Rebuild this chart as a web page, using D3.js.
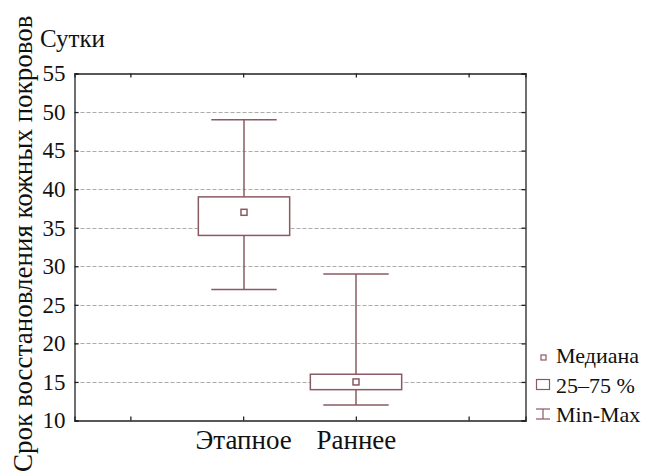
<!DOCTYPE html>
<html>
<head>
<meta charset="utf-8">
<script src="https://cdn.jsdelivr.net/npm/d3@7"></script>
<style>
  body { margin: 0; background: #fff; }
  svg text { font-family: 'Liberation Serif', serif; fill: #111; }
</style>
</head>
<body>
<svg id="chart" width="652" height="475"></svg>
<script>
  const groups = ['Этапное', 'Раннее'];
  const slots = ['', 'Этапное', 'Раннее', ' '];
  const medians = [37, 15];
  const q1 = [34, 14];
  const q3 = [39, 16];
  const mins = [27, 12];
  const maxs = [49, 29];
  const yTicks = [10, 15, 20, 25, 30, 35, 40, 45, 50, 55];
  const legendLabels = ['Медиана', '25–75 %', 'Min-Max'];

  const boxColor = '#8a5a63';
  const svg = d3.select('#chart');
  const margin = { top: 73.5, right: 126.5, bottom: 54.5, left: 74.5 };
  const width = +svg.attr('width');
  const height = +svg.attr('height');

  const x = d3.scaleBand().domain(slots).range([margin.left, width - margin.right]);
  const y = d3.scaleLinear().domain([10, 55]).range([height - margin.bottom, margin.top]);

  // grid
  svg.append('g')
    .selectAll('line')
    .data(yTicks.filter(t => t > 10 && t < 55))
    .enter()
    .append('line')
    .attr('x1', margin.left)
    .attr('x2', width - margin.right)
    .attr('y1', d => Math.round(y(d)) + 0.5)
    .attr('y2', d => Math.round(y(d)) + 0.5)
    .attr('stroke', '#ababab')
    .attr('stroke-dasharray', '4,2');

  // axes
  const yAxis = svg.append('g')
    .attr('transform', `translate(${margin.left},0)`)
    .call(d3.axisLeft(y).tickValues(yTicks).tickSize(-4).tickPadding(9));
  svg.append('g')
    .attr('transform', `translate(${width - margin.right},0)`)
    .call(d3.axisRight(y).tickValues(yTicks).tickSize(-4).tickFormat(''));
  const xAxis = svg.append('g')
    .attr('transform', `translate(0,${height - margin.bottom})`)
    .call(d3.axisBottom(x).tickSize(-4).tickPadding(9));
  svg.append('g')
    .attr('transform', `translate(0,${margin.top})`)
    .call(d3.axisTop(x).tickSize(-4).tickFormat(''));

  svg.selectAll('g').attr('font-family', null).attr('font-size', null);
  svg.selectAll('.domain').attr('stroke', '#222').attr('stroke-width', 1.3);
  svg.selectAll('.tick line').attr('stroke', '#222').attr('stroke-width', 1.3);
  yAxis.selectAll('text').attr('fill', '#111').style('font-size', '23px');
  xAxis.selectAll('text').attr('fill', '#111').style('font-size', '27px');

  // boxes
  const bw = x.bandwidth();
  const box = svg.append('g')
    .selectAll('g')
    .data(groups)
    .enter()
    .append('g')
    .attr('transform', d => `translate(${Math.round(x(d) + bw / 2)},0)`);

  box.append('line')
    .attr('x1', 0).attr('x2', 0)
    .attr('y1', (d, i) => y(maxs[i]))
    .attr('y2', (d, i) => y(mins[i]))
    .attr('stroke', boxColor).attr('stroke-width', 1.5);

  box.selectAll('.cap')
    .data((d, i) => [maxs[i], mins[i]])
    .enter()
    .append('line')
    .attr('x1', -bw * 0.29).attr('x2', bw * 0.29)
    .attr('y1', d => y(d)).attr('y2', d => y(d))
    .attr('stroke', boxColor).attr('stroke-width', 1.5);

  box.append('rect')
    .attr('x', -bw * 0.405)
    .attr('width', bw * 0.81)
    .attr('y', (d, i) => y(q3[i]))
    .attr('height', (d, i) => y(q1[i]) - y(q3[i]))
    .attr('fill', '#fff')
    .attr('stroke', boxColor).attr('stroke-width', 1.5);

  box.append('rect')
    .attr('x', -3).attr('width', 6)
    .attr('y', (d, i) => y(medians[i]) - 3)
    .attr('height', 6)
    .attr('fill', '#fff')
    .attr('stroke', boxColor).attr('stroke-width', 1.5);

  // titles
  svg.append('text')
    .attr('x', 40).attr('y', 47)
    .style('font-size', '25px')
    .text('Сутки');
  svg.append('text')
    .attr('transform', 'translate(32,472) rotate(-90)')
    .style('font-size', '27px')
    .text('Срок восстановления кожных покровов');

  // legend
  const legend = svg.append('g')
    .attr('transform', 'translate(536,0)')
    .selectAll('g')
    .data(legendLabels)
    .enter()
    .append('g')
    .attr('transform', (d, i) => `translate(0,${363 + i * 29.5})`);

  legend.append('text')
    .attr('x', 20)
    .style('font-size', '22px')
    .text(d => d);

  legend.filter((d, i) => i === 0).append('rect')
    .attr('x', 5).attr('y', -8).attr('width', 5).attr('height', 5)
    .attr('fill', '#fff').attr('stroke', boxColor).attr('stroke-width', 1.2);
  legend.filter((d, i) => i === 1).append('rect')
    .attr('x', 0.5).attr('y', -13).attr('width', 13).attr('height', 10)
    .attr('fill', '#fff').attr('stroke', boxColor).attr('stroke-width', 1.2);
  const mm = legend.filter((d, i) => i === 2).append('g').attr('stroke', boxColor).attr('stroke-width', 1.2);
  mm.append('line').attr('x1', 0).attr('x2', 14).attr('y1', -13).attr('y2', -13);
  mm.append('line').attr('x1', 0).attr('x2', 14).attr('y1', -3).attr('y2', -3);
  mm.append('line').attr('x1', 7).attr('x2', 7).attr('y1', -13).attr('y2', -3);
</script>
</body>
</html>
